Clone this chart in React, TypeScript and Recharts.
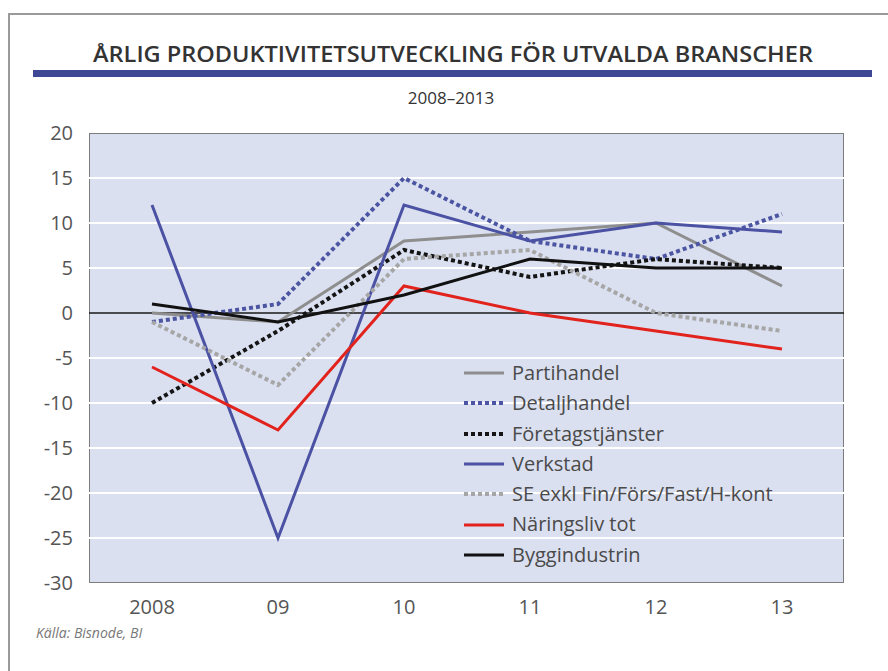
import React from "react";
import {
  LineChart,
  Line,
  XAxis,
  YAxis,
  ReferenceLine,
} from "recharts";

const years = ["2008", "09", "10", "11", "12", "13"];
const partihandel = [0, -1, 8, 9, 10, 3];
const detaljhandel = [-1, 1, 15, 8, 6, 11];
const foretagstjanster = [-10, -2, 7, 4, 6, 5];
const verkstad = [12, -25, 12, 8, 10, 9];
const seExkl = [-1, -8, 6, 7, 0, -2];
const naringsliv = [-6, -13, 3, 0, -2, -4];
const byggindustrin = [1, -1, 2, 6, 5, 5];

const yTicks = [20, 15, 10, 5, 0, -5, -10, -15, -20, -25, -30];
const gridValues = [15, 10, 5, -5, -10, -15, -20, -25];

const series = [
  { key: "partihandel", name: "Partihandel", values: partihandel, color: "#8e8e8e", dash: undefined, width: 3 },
  { key: "detaljhandel", name: "Detaljhandel", values: detaljhandel, color: "#4c55a2", dash: "4 3", width: 4 },
  { key: "foretagstjanster", name: "Företagstjänster", values: foretagstjanster, color: "#141414", dash: "4 3", width: 4 },
  { key: "verkstad", name: "Verkstad", values: verkstad, color: "#4b51a3", dash: undefined, width: 3 },
  { key: "seExkl", name: "SE exkl Fin/Förs/Fast/H-kont", values: seExkl, color: "#a6a6a6", dash: "4 3", width: 4 },
  { key: "naringsliv", name: "Näringsliv tot", values: naringsliv, color: "#e2231d", dash: undefined, width: 3 },
  { key: "byggindustrin", name: "Byggindustrin", values: byggindustrin, color: "#111111", dash: undefined, width: 3 },
];

const data = years.map((year, i) => {
  const row: Record<string, string | number> = { year };
  series.forEach((s) => {
    row[s.key] = s.values[i];
  });
  return row;
});

// plot box in page pixels
const PLOT = { left: 89, top: 133, right: 844, bottom: 583 };
const FONT = "'Open Sans', 'Noto Sans', sans-serif";

function LegendBox() {
  return (
    <div style={{ fontFamily: FONT, fontSize: 20, color: "#4a4a4a", lineHeight: "30.3px" }}>
      {series.map((s) => (
        <div key={s.key} style={{ display: "flex", alignItems: "center", height: 30.3 }}>
          <svg width={44} height={10} style={{ marginRight: 6 }}>
            <line
              x1={2}
              x2={42}
              y1={5}
              y2={5}
              stroke={s.color}
              strokeWidth={s.width}
              strokeDasharray={s.dash}
            />
          </svg>
          <span>{s.name}</span>
        </div>
      ))}
    </div>
  );
}

export default function App() {
  return (
    <div
      style={{
        position: "absolute",
        left: 0,
        top: 0,
        width: 888,
        height: 671,
        background: "#fff",
        overflow: "hidden",
      }}
    >
      {/* frame */}
      <div style={{ position: "absolute", left: 8, top: 13, width: 880, height: 658, borderTop: "2px solid #9a9a9a", borderLeft: "2px solid #9a9a9a" }} />

      <svg width={888} height={120} style={{ position: "absolute", left: 0, top: 0 }}>
        <text
          x={93}
          y={62}
          textLength={720}
          lengthAdjust="spacingAndGlyphs"
          fontFamily={FONT}
          fontWeight={600}
          fontSize={21}
          fill="#333"
        >
          ÅRLIG PRODUKTIVITETSUTVECKLING FÖR UTVALDA BRANSCHER
        </text>
        <rect x={33} y={70} width={839} height={7} fill="#3e4895" />
        <text x={451} y={104} textAnchor="middle" fontFamily={FONT} fontSize={17} fill="#333">
          2008–2013
        </text>
      </svg>

      {/* plot background + border */}
      <div
        style={{
          position: "absolute",
          left: PLOT.left,
          top: PLOT.top,
          width: PLOT.right - PLOT.left - 2,
          height: PLOT.bottom - PLOT.top - 2,
          background: "#dae0f0",
          border: "1px solid #7c7c7c",
        }}
      />

      <div style={{ position: "absolute", left: 0, top: 0 }}>
        <LineChart
          width={888}
          height={671}
          data={data}
          margin={{ top: PLOT.top, left: PLOT.left - 60, right: 888 - PLOT.right, bottom: 671 - PLOT.bottom - 30 }}
        >
          <XAxis
            dataKey="year"
            axisLine={false}
            tickLine={false}
            height={30}
            padding={{ left: 63, right: 62 }}
            tick={{ fill: "#555", fontSize: 20, fontFamily: FONT }}
            tickMargin={11}
            interval={0}
          />
          <YAxis
            width={60}
            domain={[-30, 20]}
            ticks={yTicks}
            axisLine={false}
            tickLine={false}
            tick={{ fill: "#555", fontSize: 20, fontFamily: FONT }}
            tickMargin={10}
            interval={0}
          />
          {gridValues.map((v) => (
            <ReferenceLine key={v} y={v} stroke="#ffffff" strokeWidth={2} />
          ))}
          <ReferenceLine y={0} stroke="#1a1a1a" strokeWidth={1.5} />
          {series.map((s) => (
            <Line
              key={s.key}
              type="linear"
              dataKey={s.key}
              name={s.name}
              stroke={s.color}
              strokeWidth={s.width}
              strokeDasharray={s.dash}
              dot={false}
              activeDot={false}
              isAnimationActive={false}
            />
          ))}
        </LineChart>
      </div>

      <div style={{ position: "absolute", left: 462, top: 358 }}>
        <LegendBox />
      </div>

      <div
        style={{
          position: "absolute",
          left: 36,
          top: 623,
          fontFamily: FONT,
          fontStyle: "italic",
          fontSize: 14,
          color: "#777",
        }}
      >
        Källa: Bisnode, BI
      </div>
    </div>
  );
}
